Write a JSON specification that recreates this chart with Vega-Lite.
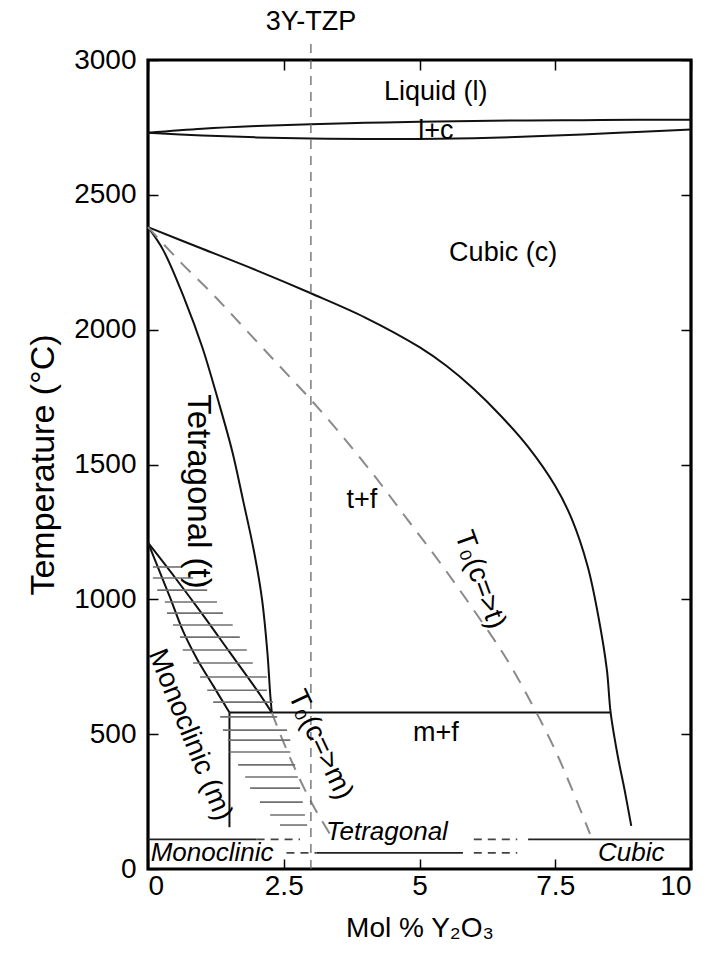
{
  "$schema": "https://vega.github.io/schema/vega-lite/v6.json",
  "width": 543,
  "height": 809,
  "autosize": {"type": "none"},
  "padding": {"left": 148, "top": 60, "right": 19, "bottom": 85},
  "background": "white",
  "config": {
    "font": "Liberation Sans",
    "view": {"stroke": "#000", "strokeWidth": 3.2},
    "axis": {
      "domain": false,
      "grid": false,
      "tickColor": "#000",
      "tickWidth": 1.5,
      "tickSize": -10,
      "labelColor": "#000",
      "labelFont": "Liberation Sans",
      "labelFontSize": 28,
      "titleFont": "Liberation Sans",
      "titleFontWeight": "normal",
      "titleColor": "#000"
    }
  },
  "datasets": {
    "boundaries": [
      {"curve": "liquidus", "i": 0, "x": 0, "T": 2730},
      {"curve": "liquidus", "i": 1, "x": 1, "T": 2745},
      {"curve": "liquidus", "i": 2, "x": 2, "T": 2755},
      {"curve": "liquidus", "i": 3, "x": 3, "T": 2762},
      {"curve": "liquidus", "i": 4, "x": 4, "T": 2767},
      {"curve": "liquidus", "i": 5, "x": 5, "T": 2771},
      {"curve": "liquidus", "i": 6, "x": 6, "T": 2774},
      {"curve": "liquidus", "i": 7, "x": 7, "T": 2776},
      {"curve": "liquidus", "i": 8, "x": 8, "T": 2777},
      {"curve": "liquidus", "i": 9, "x": 9, "T": 2778},
      {"curve": "liquidus", "i": 10, "x": 10, "T": 2778},
      {"curve": "solidus", "i": 0, "x": 0, "T": 2730},
      {"curve": "solidus", "i": 1, "x": 1, "T": 2720},
      {"curve": "solidus", "i": 2, "x": 2, "T": 2713},
      {"curve": "solidus", "i": 3, "x": 3, "T": 2709},
      {"curve": "solidus", "i": 4, "x": 4, "T": 2707},
      {"curve": "solidus", "i": 5, "x": 5, "T": 2707},
      {"curve": "solidus", "i": 6, "x": 6, "T": 2710},
      {"curve": "solidus", "i": 7, "x": 7, "T": 2716},
      {"curve": "solidus", "i": 8, "x": 8, "T": 2724},
      {"curve": "solidus", "i": 9, "x": 9, "T": 2733},
      {"curve": "solidus", "i": 10, "x": 10, "T": 2742},
      {"curve": "cubic", "i": 0, "x": 0, "T": 2380},
      {"curve": "cubic", "i": 1, "x": 1, "T": 2300},
      {"curve": "cubic", "i": 2, "x": 2, "T": 2220},
      {"curve": "cubic", "i": 3, "x": 3, "T": 2135},
      {"curve": "cubic", "i": 4, "x": 4, "T": 2045},
      {"curve": "cubic", "i": 5, "x": 5, "T": 1935},
      {"curve": "cubic", "i": 6, "x": 5.5, "T": 1865},
      {"curve": "cubic", "i": 7, "x": 6, "T": 1780},
      {"curve": "cubic", "i": 8, "x": 6.5, "T": 1680},
      {"curve": "cubic", "i": 9, "x": 7, "T": 1565},
      {"curve": "cubic", "i": 10, "x": 7.5, "T": 1420},
      {"curve": "cubic", "i": 11, "x": 7.8, "T": 1300},
      {"curve": "cubic", "i": 12, "x": 8.1, "T": 1120},
      {"curve": "cubic", "i": 13, "x": 8.3, "T": 930},
      {"curve": "cubic", "i": 14, "x": 8.45, "T": 740},
      {"curve": "cubic", "i": 15, "x": 8.52, "T": 580},
      {"curve": "cubic", "i": 16, "x": 8.65, "T": 420},
      {"curve": "cubic", "i": 17, "x": 8.78, "T": 290},
      {"curve": "cubic", "i": 18, "x": 8.9, "T": 160},
      {"curve": "tetragonal", "i": 0, "x": 0, "T": 2380},
      {"curve": "tetragonal", "i": 1, "x": 0.28, "T": 2295},
      {"curve": "tetragonal", "i": 2, "x": 0.68, "T": 2110},
      {"curve": "tetragonal", "i": 3, "x": 1.0, "T": 1935},
      {"curve": "tetragonal", "i": 4, "x": 1.29, "T": 1739},
      {"curve": "tetragonal", "i": 5, "x": 1.55, "T": 1550},
      {"curve": "tetragonal", "i": 6, "x": 1.75, "T": 1368},
      {"curve": "tetragonal", "i": 7, "x": 1.95, "T": 1180},
      {"curve": "tetragonal", "i": 8, "x": 2.1, "T": 1000},
      {"curve": "tetragonal", "i": 9, "x": 2.2, "T": 800},
      {"curve": "tetragonal", "i": 10, "x": 2.25, "T": 650},
      {"curve": "tetragonal", "i": 11, "x": 2.28, "T": 580},
      {"curve": "band upper", "i": 0, "x": 0, "T": 1210},
      {"curve": "band upper", "i": 1, "x": 0.5, "T": 1080},
      {"curve": "band upper", "i": 2, "x": 1.0, "T": 945},
      {"curve": "band upper", "i": 3, "x": 1.5, "T": 805},
      {"curve": "band upper", "i": 4, "x": 2.0, "T": 665},
      {"curve": "band upper", "i": 5, "x": 2.28, "T": 580},
      {"curve": "band lower", "i": 0, "x": 0, "T": 1210},
      {"curve": "band lower", "i": 1, "x": 0.2, "T": 1110},
      {"curve": "band lower", "i": 2, "x": 0.4, "T": 1010},
      {"curve": "band lower", "i": 3, "x": 0.65, "T": 880},
      {"curve": "band lower", "i": 4, "x": 0.9, "T": 780},
      {"curve": "band lower", "i": 5, "x": 1.2, "T": 680},
      {"curve": "band lower", "i": 6, "x": 1.5, "T": 580},
      {"curve": "monoclinic", "i": 0, "x": 1.5, "T": 580},
      {"curve": "monoclinic", "i": 1, "x": 1.5, "T": 155},
      {"curve": "eutectoid", "i": 0, "x": 1.5, "T": 580},
      {"curve": "eutectoid", "i": 1, "x": 8.52, "T": 580}
    ],
    "t0": [
      {"curve": "T0 c-t", "i": 0, "x": 0, "T": 2380},
      {"curve": "T0 c-t", "i": 1, "x": 0.6, "T": 2250},
      {"curve": "T0 c-t", "i": 2, "x": 1.2, "T": 2130},
      {"curve": "T0 c-t", "i": 3, "x": 1.8, "T": 2000},
      {"curve": "T0 c-t", "i": 4, "x": 2.4, "T": 1870},
      {"curve": "T0 c-t", "i": 5, "x": 3.0, "T": 1740},
      {"curve": "T0 c-t", "i": 6, "x": 3.6, "T": 1600},
      {"curve": "T0 c-t", "i": 7, "x": 4.2, "T": 1450},
      {"curve": "T0 c-t", "i": 8, "x": 4.8, "T": 1290},
      {"curve": "T0 c-t", "i": 9, "x": 5.4, "T": 1130},
      {"curve": "T0 c-t", "i": 10, "x": 6.0, "T": 960},
      {"curve": "T0 c-t", "i": 11, "x": 6.6, "T": 780},
      {"curve": "T0 c-t", "i": 12, "x": 7.1, "T": 600},
      {"curve": "T0 c-t", "i": 13, "x": 7.5, "T": 440},
      {"curve": "T0 c-t", "i": 14, "x": 7.8, "T": 300},
      {"curve": "T0 c-t", "i": 15, "x": 8.14, "T": 130},
      {"curve": "T0 c-m", "i": 0, "x": 2.28, "T": 580},
      {"curve": "T0 c-m", "i": 1, "x": 2.6, "T": 420},
      {"curve": "T0 c-m", "i": 2, "x": 3.0, "T": 250},
      {"curve": "T0 c-m", "i": 3, "x": 3.35, "T": 130}
    ],
    "hatching": [
      {"T": 1120, "x0": 0.09, "x1": 0.63},
      {"T": 1079, "x0": 0.09, "x1": 0.83},
      {"T": 1034, "x0": 0.17, "x1": 1.09},
      {"T": 990, "x0": 0.31, "x1": 1.27},
      {"T": 949, "x0": 0.35, "x1": 1.38},
      {"T": 905, "x0": 0.46, "x1": 1.56},
      {"T": 860, "x0": 0.59, "x1": 1.69},
      {"T": 812, "x0": 0.64, "x1": 1.82},
      {"T": 764, "x0": 0.83, "x1": 1.93},
      {"T": 712, "x0": 0.96, "x1": 2.19},
      {"T": 663, "x0": 1.09, "x1": 2.19},
      {"T": 619, "x0": 1.2, "x1": 2.3},
      {"T": 564, "x0": 1.33, "x1": 2.38},
      {"T": 515, "x0": 1.38, "x1": 2.56},
      {"T": 478, "x0": 1.47, "x1": 2.62},
      {"T": 434, "x0": 1.5, "x1": 2.62},
      {"T": 386, "x0": 1.66, "x1": 2.71},
      {"T": 341, "x0": 1.79, "x1": 2.76},
      {"T": 300, "x0": 1.88, "x1": 2.8},
      {"T": 248, "x0": 2.06, "x1": 2.85},
      {"T": 200, "x0": 2.25, "x1": 2.89},
      {"T": 163, "x0": 2.43, "x1": 2.93}
    ],
    "lowTempSolid": [
      {"T": 110, "x0": 0, "x1": 2.0},
      {"T": 110, "x0": 7.0, "x1": 10},
      {"T": 60, "x0": 3.1, "x1": 5.8}
    ],
    "lowTempDashed": [
      {"T": 110, "x0": 2.0, "x1": 2.8},
      {"T": 110, "x0": 6.0, "x1": 6.8},
      {"T": 60, "x0": 2.55, "x1": 3.1},
      {"T": 60, "x0": 6.0, "x1": 6.8}
    ],
    "composition": [
      {"name": "3Y-TZP", "x": 3, "T0": 0, "T1": 3075}
    ],
    "labels": [
      {"text": "Liquid (l)", "x": 5.3, "T": 2880},
      {"text": "l+c", "x": 5.3, "T": 2735},
      {"text": "Cubic (c)", "x": 6.54, "T": 2284},
      {"text": "t+f", "x": 3.94, "T": 1370},
      {"text": "m+f", "x": 5.3, "T": 504},
      {"text": "3Y-TZP", "x": 3, "T": 3140}
    ],
    "phaseNames": [
      {"text": "Tetragonal", "x": 4.4, "T": 137},
      {"text": "Monoclinic", "x": 1.18, "T": 60},
      {"text": "Cubic", "x": 8.9, "T": 60}
    ]
  },
  "layer": [
    {
      "data": {"name": "boundaries"},
      "mark": {"type": "line", "color": "#111", "strokeWidth": 2, "interpolate": "catmull-rom"},
      "encoding": {
        "x": {
          "field": "x", "type": "quantitative",
          "scale": {"domain": [0, 10], "nice": false, "zero": false},
          "axis": {"values": [0, 2.5, 5, 7.5, 10], "labelExpr": "'' + datum.value", "labelPadding": 13, "title": "Mol % Y₂O₃", "titleFontSize": 28, "titlePadding": 14}
        },
        "y": {
          "field": "T", "type": "quantitative",
          "scale": {"domain": [0, 3000], "nice": false, "zero": false},
          "axis": {"values": [0, 500, 1000, 1500, 2000, 2500, 3000], "format": "d", "labelPadding": 22, "title": "Temperature (°C)", "titleFontSize": 34, "titlePadding": 13}
        },
        "detail": {"field": "curve"},
        "order": {"field": "i", "type": "quantitative"}
      }
    },
    {
      "data": {"name": "boundaries"},
      "mark": {"type": "point", "opacity": 0},
      "encoding": {
        "x": {"field": "x", "type": "quantitative", "axis": {"orient": "top", "values": [0, 2.5, 5, 7.5, 10], "labels": false, "title": null}},
        "y": {"field": "T", "type": "quantitative", "axis": {"orient": "right", "values": [0, 500, 1000, 1500, 2000, 2500, 3000], "labels": false, "title": null}}
      }
    },
    {
      "data": {"name": "t0"},
      "mark": {"type": "line", "color": "#8a8a8a", "strokeWidth": 2, "strokeDash": [14, 10], "interpolate": "catmull-rom"},
      "encoding": {
        "x": {"field": "x", "type": "quantitative", "axis": null},
        "y": {"field": "T", "type": "quantitative", "axis": null},
        "detail": {"field": "curve"},
        "order": {"field": "i", "type": "quantitative"}
      }
    },
    {
      "data": {"name": "hatching"},
      "mark": {"type": "rule", "color": "#707070", "strokeWidth": 1.6},
      "encoding": {
        "x": {"field": "x0", "type": "quantitative", "axis": null},
        "x2": {"field": "x1"},
        "y": {"field": "T", "type": "quantitative", "axis": null}
      }
    },
    {
      "data": {"name": "lowTempSolid"},
      "mark": {"type": "rule", "color": "#222", "strokeWidth": 1.8},
      "encoding": {
        "x": {"field": "x0", "type": "quantitative", "axis": null},
        "x2": {"field": "x1"},
        "y": {"field": "T", "type": "quantitative", "axis": null}
      }
    },
    {
      "data": {"name": "lowTempDashed"},
      "mark": {"type": "rule", "color": "#444", "strokeWidth": 1.8, "strokeDash": [8, 6]},
      "encoding": {
        "x": {"field": "x0", "type": "quantitative", "axis": null},
        "x2": {"field": "x1"},
        "y": {"field": "T", "type": "quantitative", "axis": null}
      }
    },
    {
      "data": {"name": "composition"},
      "mark": {"type": "rule", "color": "#666", "strokeWidth": 1.3, "strokeDash": [9, 7]},
      "encoding": {
        "x": {"field": "x", "type": "quantitative", "axis": null},
        "y": {"field": "T0", "type": "quantitative", "axis": null},
        "y2": {"field": "T1"}
      }
    },
    {
      "data": {"name": "labels"},
      "mark": {"type": "text", "fontSize": 27, "color": "#000", "align": "center", "baseline": "middle"},
      "encoding": {
        "x": {"field": "x", "type": "quantitative", "axis": null},
        "y": {"field": "T", "type": "quantitative", "axis": null},
        "text": {"field": "text"}
      }
    },
    {
      "data": {"name": "phaseNames"},
      "mark": {"type": "text", "fontSize": 26, "fontStyle": "italic", "color": "#000", "align": "center", "baseline": "middle"},
      "encoding": {
        "x": {"field": "x", "type": "quantitative", "axis": null},
        "y": {"field": "T", "type": "quantitative", "axis": null},
        "text": {"field": "text"}
      }
    },
    {
      "data": {"values": [{"text": "Tetragonal (t)", "x": 0.92, "T": 1400}]},
      "mark": {"type": "text", "fontSize": 33, "angle": 90, "color": "#000", "align": "center", "baseline": "middle"},
      "encoding": {
        "x": {"field": "x", "type": "quantitative", "axis": null},
        "y": {"field": "T", "type": "quantitative", "axis": null},
        "text": {"field": "text"}
      }
    },
    {
      "data": {"values": [{"text": "Monoclinic (m)", "x": 0.77, "T": 497}]},
      "mark": {"type": "text", "fontSize": 28, "angle": 68, "color": "#000", "align": "center", "baseline": "middle"},
      "encoding": {
        "x": {"field": "x", "type": "quantitative", "axis": null},
        "y": {"field": "T", "type": "quantitative", "axis": null},
        "text": {"field": "text"}
      }
    },
    {
      "data": {"values": [{"text": "T₀(c=>t)", "x": 6.11, "T": 1072}]},
      "mark": {"type": "text", "fontSize": 28, "angle": 70, "color": "#000", "align": "center", "baseline": "middle"},
      "encoding": {
        "x": {"field": "x", "type": "quantitative", "axis": null},
        "y": {"field": "T", "type": "quantitative", "axis": null},
        "text": {"field": "text"}
      }
    },
    {
      "data": {"values": [{"text": "T₀(c=>m)", "x": 3.17, "T": 460}]},
      "mark": {"type": "text", "fontSize": 28, "angle": 65, "color": "#000", "align": "center", "baseline": "middle"},
      "encoding": {
        "x": {"field": "x", "type": "quantitative", "axis": null},
        "y": {"field": "T", "type": "quantitative", "axis": null},
        "text": {"field": "text"}
      }
    }
  ],
  "resolve": {"axis": {"x": "independent", "y": "independent"}}
}
